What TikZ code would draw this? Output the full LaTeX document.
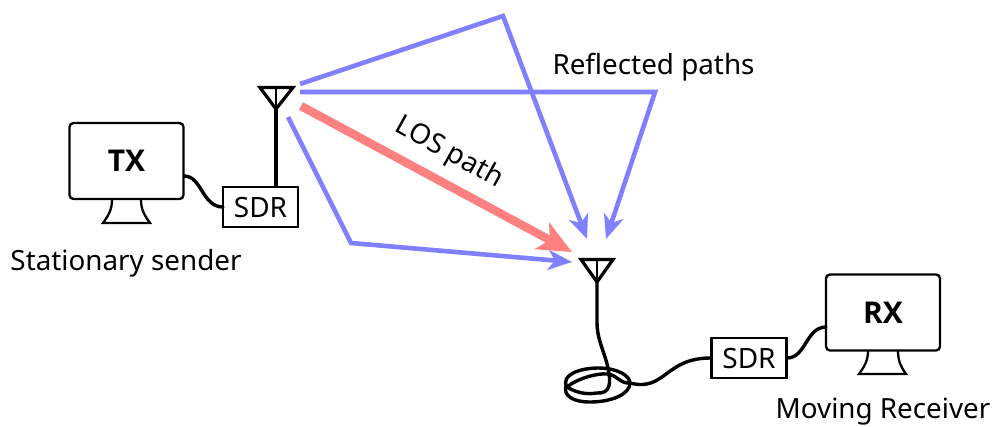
\documentclass[tikz,border=0pt]{standalone}
\usepackage{fontspec}
\setmainfont{Noto Sans}
\newfontfamily\heavyfont[BoldFont={Open Sans Bold}]{Open Sans}
\usetikzlibrary{arrows.meta}
\tikzset{
  wire/.style={line width=3.4pt,line cap=round,line join=round,black},
  screen/.style={draw=black,line width=2.3pt,rounded corners=4pt,inner sep=0pt,minimum width=114pt,minimum height=76pt,font=\fontsize{30}{32}\selectfont\heavyfont\bfseries},
  sdrbox/.style={draw=black,line width=2.3pt,inner sep=0pt,minimum width=75pt,minimum height=40pt,font=\fontsize{28}{30}\selectfont},
  lbl/.style={inner sep=0pt,font=\fontsize{27.8}{30}\selectfont},
  ray/.style={line width=4.6pt,draw={rgb,255:red,128;green,128;blue,255},line join=miter,-{Stealth[length=24pt,width=20pt,inset=7pt]}},
  los/.style={line width=8.5pt,draw={rgb,255:red,255;green,128;blue,128},-{Stealth[length=34pt,width=30pt,inset=9pt]}},
  antenna/.style={line width=3.2pt,line join=miter,black},
  stand/.style={line width=2.3pt,line join=miter,black}
}
\begin{document}
\begin{tikzpicture}[x=1pt,y=-1pt]
\useasboundingbox (0,0) rectangle (992,426);
% rays
\coordinate (a1) at (300,84); \coordinate (r1) at (503,16); \coordinate (t1) at (587,239);
\coordinate (a2) at (300,92); \coordinate (r2) at (655,92); \coordinate (t2) at (606,239);
\coordinate (a3) at (288,117); \coordinate (r3) at (351,243); \coordinate (t3) at (572,262);
\coordinate (a4) at (301,106); \coordinate (t4) at (572,252);
\draw[ray] (a1) -- (r1) -- (t1);
\draw[ray] (a2) -- (r2) -- (t2);
\draw[ray] (a3) -- (r3) -- (t3);
\draw[los] (a4) -- (t4);
% TX side
\node[screen] (tx) at (126.5,161) {TX};
\node[sdrbox] (sdr1) at (260.5,207) {SDR};
\coordinate (s1a) at (112,200); \coordinate (s1b) at (141,200);
\coordinate (s1c) at (150,223); \coordinate (s1d) at (103,223);
\draw[stand] (s1a) .. controls (112,210) and (108,216) .. (s1d) -- (s1c) .. controls (145,216) and (141,210) .. (s1b);
\coordinate (c1) at (184,176); \coordinate (c2) at (223,207);
\draw[wire] (c1) .. controls (202,176) and (202,207) .. (c2);
\coordinate (ap1) at (276,109); \coordinate (al1) at (260,87.5); \coordinate (ar1) at (293,87.5); \coordinate (am1) at (276,87.5);
\draw[antenna] (al1) -- (ar1) -- (ap1) -- cycle;
\draw[line width=2pt] (am1) -- (ap1);
\draw[wire] (ap1) -- (sdr1.north -| ap1);
% RX side
\node[screen] (rx) at (883,312.5) {RX};
\node[sdrbox] (sdr2) at (749,358) {SDR};
\coordinate (s2a) at (868,351); \coordinate (s2b) at (898,351);
\coordinate (s2c) at (906,374); \coordinate (s2d) at (859,374);
\draw[stand] (s2a) .. controls (868,361) and (864,367) .. (s2d) -- (s2c) .. controls (901,367) and (898,361) .. (s2b);
\coordinate (c3) at (787,358); \coordinate (c4) at (826,327);
\draw[wire] (c3) .. controls (806,358) and (806,327) .. (c4);
\coordinate (ap2) at (597,282); \coordinate (al2) at (581,259.5); \coordinate (ar2) at (613,259.5); \coordinate (am2) at (597,259.5);
\draw[antenna] (al2) -- (ar2) -- (ap2) -- cycle;
\draw[line width=2pt] (am2) -- (ap2);
\coordinate (m2) at (597,322); \coordinate (k1) at (608,368);
\coordinate (k2) at (597,393); \coordinate (k3) at (567,387); \coordinate (k4) at (630,383);
\draw[wire] (ap2) -- (m2) .. controls (597,340) and (604,350) .. (k1)
  .. controls (611,382) and (611,394) .. (k2)
  .. controls (585,395) and (575,392) .. (k3)
  .. controls (578,378) and (598,373) .. (607,374)
  .. controls (616,374) and (620,384) .. (k4)
  .. controls (665,392) and (665,358) .. (sdr2.west);
\draw[wire] (k3) .. controls (560,375) and (580,368) .. (598,368)
  .. controls (618,368) and (630,376) .. (630,383)
  .. controls (630,394) and (612,402) .. (590,402)
  .. controls (572,402) and (563,395) .. (566,386);
% labels
\node[lbl] (l1) at (126,263) {Stationary sender};
\node[lbl] (l2) at (883,412) {Moving Receiver};
\node[lbl] (l3) at (653.5,67) {Reflected paths};
\node[lbl,rotate=-29] (l4) at (449,153) {LOS path};
\end{tikzpicture}
\end{document}
